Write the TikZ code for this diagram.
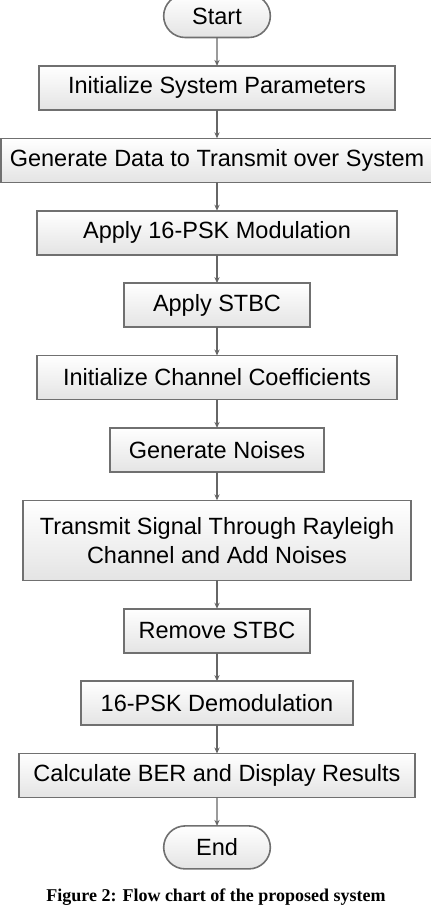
\documentclass[tikz,border=0pt]{standalone}
\usepackage{fontspec}
\setmainfont{Liberation Sans}
\newfontfamily\captionfont{Liberation Serif}
\usepackage{xcolor}
\usetikzlibrary{shapes.misc, arrows.meta, positioning}

\definecolor{boxline}{HTML}{707070}
\definecolor{boxfill}{HTML}{E4E4E4}
\definecolor{flowline}{HTML}{666666}

\begin{document}
\begin{tikzpicture}[
    x=1pt, y=1pt,
    node distance=14.2pt,
    stepbox/.style={rectangle, draw=boxline, line width=0.8pt, top color=white, bottom color=boxfill, minimum height=22pt, inner sep=2pt, outer sep=0pt, align=center, font=\fontsize{11.75}{14.5}\selectfont},
    termbox/.style={rounded rectangle, draw=boxline, line width=0.8pt, top color=white, bottom color=boxfill, minimum width=60pt, minimum height=21.5pt, outer sep=0pt, font=\fontsize{11.75}{14.5}\selectfont},
    arrow/.style={-{Stealth[length=3pt, width=2.6pt]}, line width=0.7pt, draw=flowline}
]
\useasboundingbox (0,0) rectangle (215.5,-455);

% Flow of the simulation
\node[termbox] (start) at (108.5,-8) {Start};
\node[stepbox, minimum width=178pt, below=of start] (init_par) {Initialize System Parameters};
\node[stepbox, minimum width=216pt, below=of init_par] (gen_data) {Generate Data to Transmit over System};
\node[stepbox, minimum width=180pt, below=of gen_data] (psk_mod) {Apply 16-PSK Modulation};
\node[stepbox, minimum width=93pt, below=of psk_mod] (stbc) {Apply STBC};
\node[stepbox, minimum width=180pt, below=of stbc] (init_ch) {Initialize Channel Coefficients};
\node[stepbox, minimum width=107pt, below=of init_ch] (noise) {Generate Noises};
\node[stepbox, minimum width=194pt, minimum height=40pt, below=of noise] (transmit) {Transmit Signal Through Rayleigh\\Channel and Add Noises};
\node[stepbox, minimum width=93pt, below=of transmit] (rm_stbc) {Remove STBC};
\node[stepbox, minimum width=136pt, below=of rm_stbc] (psk_demod) {16-PSK Demodulation};
\node[stepbox, minimum width=198pt, below=of psk_demod] (ber) {Calculate BER and Display Results};
\node[termbox, below=of ber] (end) {End};

% Caption
\node[font=\captionfont\bfseries\fontsize{9}{11}\selectfont] (caption) at (108,-448.5) {Figure 2: Flow chart of the proposed system};

% Connectors
\draw[arrow] (start) -- (init_par);
\draw[arrow] (init_par) -- (gen_data);
\draw[arrow] (gen_data) -- (psk_mod);
\draw[arrow] (psk_mod) -- (stbc);
\draw[arrow] (stbc) -- (init_ch);
\draw[arrow] (init_ch) -- (noise);
\draw[arrow] (noise) -- (transmit);
\draw[arrow] (transmit) -- (rm_stbc);
\draw[arrow] (rm_stbc) -- (psk_demod);
\draw[arrow] (psk_demod) -- (ber);
\draw[arrow] (ber) -- (end);

\end{tikzpicture}
\end{document}
